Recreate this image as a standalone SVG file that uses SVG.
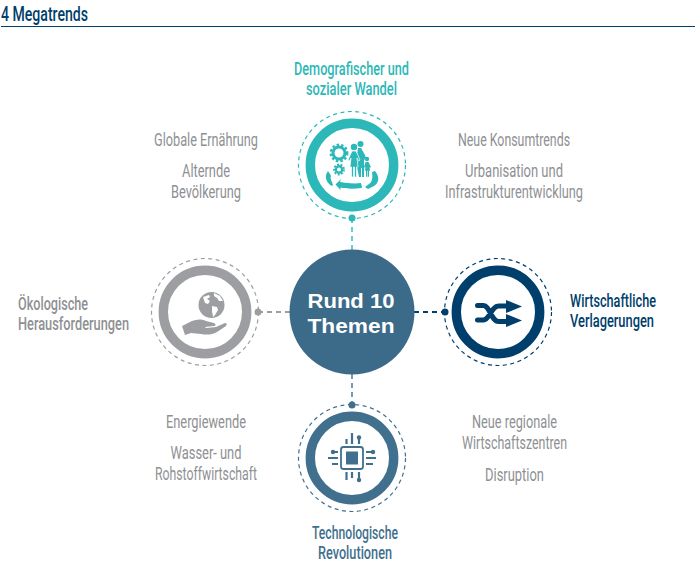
<svg xmlns="http://www.w3.org/2000/svg" width="697" height="563" viewBox="0 0 697 563">
<style>
text{font-family:"Roboto","Liberation Sans",sans-serif;font-size:18px;text-anchor:middle}
.g{fill:#8e9093}
.b{font-weight:500}
.n{fill:none;stroke-width:1.2;stroke-dasharray:4 3.5}
.r{fill:#fff;stroke-width:9.4}
.c{fill:none;stroke-width:1.4;stroke-dasharray:5 4}
.m{font-family:"Liberation Sans",sans-serif;font-size:20px;font-weight:700;fill:#fff}
</style>
<rect width="697" height="563" fill="#fff"/>
<g id="title"><text x="1" y="21" style="text-anchor:start;font-size:20px;font-weight:500" fill="#003e6b" textLength="87" lengthAdjust="spacingAndGlyphs">4 Megatrends</text><line x1="1" y1="26.500" x2="695" y2="26.500" stroke="#003e6b" stroke-width="1"/></g>
<g id="connectors">
<path class="c" d="M352 218V250" stroke="#2cb8b8"/>
<path class="c" d="M258 312H290" stroke="#9c9ea1" style="stroke-width:1.800"/>
<path class="c" d="M414 312H445" stroke="#003e6b" style="stroke-width:1.800"/>
<path class="c" d="M352 374V405" stroke="#41708f"/>
</g>
<g id="center"><circle cx="352" cy="312" r="62.500" fill="#3c6b8a"/>
<text class="m" x="351" y="308" textLength="87" lengthAdjust="spacingAndGlyphs">Rund 10</text>
<text class="m" x="351" y="333" textLength="87" lengthAdjust="spacingAndGlyphs">Themen</text></g>
<g id="demografie">
<circle class="n" cx="352" cy="165" r="53.500" stroke="#2cb8b8"/>
<circle class="r" cx="352" cy="165" r="41.700" stroke="#2cb8b8"/>
<circle cx="352" cy="218" r="3.500" fill="#2cb8b8"/>
<g fill="#2cb8b8">
<circle cx="339" cy="153" r="6" fill="none" stroke="#2cb8b8" stroke-width="3"/>
<circle cx="339" cy="153" r="8.200" fill="none" stroke="#2cb8b8" stroke-width="2.400" stroke-dasharray="2.500 2"/>
<circle cx="339" cy="169.500" r="3.200" fill="none" stroke="#2cb8b8" stroke-width="2.400"/>
<circle cx="339" cy="169.500" r="5" fill="none" stroke="#2cb8b8" stroke-width="1.800" stroke-dasharray="2 1.500"/>
<circle cx="360.500" cy="144" r="3"/>
<path d="M358 148l3 0 4 7 1 3-2 2v17h-2v-9h-1v9h-2l-3-15z"/>
<circle cx="354" cy="147" r="3.200"/>
<path d="M352 151h4l4 9-1.500 1-1.500-3 1 9h-1.500v10h-2v-10h-1v10h-2v-10h-1.500l1-9-1.500 3-1.500-1z" stroke="#fff" stroke-width=".7"/>
<circle cx="367" cy="159" r="2.200"/>
<path d="M365.500 162h3l2.500 5-1 .7-.5-1 .5 4h-1v6h-1.200v-6h-.6v6h-1.200v-6h-1l.5-4-.5 1-1-.7z"/>
<path d="M328 171l2 3 1 2c-1 2 0 4 1 6l1 3-1 1c-6-3-8-10-4-15zM372 172l3-1c5 6 4 12-1 15l-6 3-3-2 4-3c3-2 4-6 3-12z"/>
<path d="M341 179l-1 3c6 1 14 2 21 1l1 4-.5 1c-7 1-15 1-21-.5v2.500l-5-5.500z"/>
</g>
</g>
<g id="oekologie">
<circle class="n" cx="205" cy="312" r="53.500" stroke="#9c9ea1"/>
<circle class="r" cx="205" cy="312" r="41.700" stroke="#9c9ea1"/>
<circle cx="258" cy="312" r="3.500" fill="#9c9ea1"/>
<g fill="#9c9ea1">
<circle cx="211.500" cy="305" r="13"/>
<path fill="#fff" d="M203 297l6-2 1 2-3 2 3 2-2 3-3-1-1-3zM212 306l5 1 1 3-3 5-2 2-1-6zM214 293l6 3 3 5-4 0-2-3-3-2z"/>
<path d="M182 326l10-5c5-2 10-2 14 0l8 2c2 1 2 3 0 3l-9 1 1 1 10-1 9-4c2 0 2 2 1 3l-9 6c-5 3-11 3-16 2l-10-1-6 2-3-9z"/>
</g>
</g>
<g id="wirtschaft">
<circle class="n" cx="498" cy="312" r="53.500" stroke="#003e6b"/>
<circle class="r" cx="498" cy="312" r="41.700" stroke="#003e6b"/>
<circle cx="445" cy="312" r="3.500" fill="#003e6b"/>
<path d="M477.500 305.500h6c6 0 8 16 15 16h9M477.500 320h6c6 0 8-14 15-14h9" fill="none" stroke="#003e6b" stroke-width="5" stroke-linecap="round"/>
<path d="M506 300l16 6.500-16 6.500zM506 314l16 6.500-16 6.500z" fill="#003e6b"/>
</g>
<g id="technologie">
<circle class="n" cx="352" cy="458" r="53.500" stroke="#41708f"/>
<circle class="r" cx="352" cy="458" r="41.700" stroke="#41708f"/>
<circle cx="352" cy="405" r="3.500" fill="#41708f"/>
<g fill="#41708f" stroke="#41708f">
<rect x="341" y="447" width="22" height="22" rx="2.500" fill="#fff" stroke-width="1.800"/>
<rect x="346" y="451.500" width="12" height="13" stroke="none"/>
<path fill="none" stroke-width="2.200" d="M352 433v11M346.500 439v5M359 437v7M346.500 480v-8M352 478v-6M359 480v-8M333 452h5M328 458h10M332 464h6M366 452h6M366 458h10M366 464h7"/>
<circle cx="359" cy="437.500" r="2.200" stroke="none"/><circle cx="359" cy="480" r="2.200" stroke="none"/><circle cx="333" cy="452" r="2.200" stroke="none"/><circle cx="373" cy="452" r="2.200" stroke="none"/>
</g>
</g>
<g id="labels">
<text x="351.500" y="75" fill="#2cb8b8" class="b" textLength="115" lengthAdjust="spacingAndGlyphs">Demografischer und</text>
<text x="351.500" y="95" fill="#2cb8b8" class="b" textLength="91" lengthAdjust="spacingAndGlyphs">sozialer Wandel</text>
<text class="g" x="206" y="146" textLength="104" lengthAdjust="spacingAndGlyphs">Globale Ernährung</text>
<text class="g" x="206" y="177" textLength="48" lengthAdjust="spacingAndGlyphs">Alternde</text>
<text class="g" x="206" y="198" textLength="70" lengthAdjust="spacingAndGlyphs">Bevölkerung</text>
<text class="g" x="514" y="146" textLength="112" lengthAdjust="spacingAndGlyphs">Neue Konsumtrends</text>
<text class="g" x="514" y="177" textLength="98" lengthAdjust="spacingAndGlyphs">Urbanisation und</text>
<text class="g" x="514" y="198" textLength="138" lengthAdjust="spacingAndGlyphs">Infrastrukturentwicklung</text>
<text class="g b" x="18" y="310" style="text-anchor:start" textLength="70" lengthAdjust="spacingAndGlyphs">Ökologische</text>
<text class="g b" x="18" y="330" style="text-anchor:start" textLength="111" lengthAdjust="spacingAndGlyphs">Herausforderungen</text>
<text class="b" x="570" y="307" fill="#003e6b" style="text-anchor:start" textLength="86" lengthAdjust="spacingAndGlyphs">Wirtschaftliche</text>
<text class="b" x="570" y="327" fill="#003e6b" style="text-anchor:start" textLength="84" lengthAdjust="spacingAndGlyphs">Verlagerungen</text>
<text class="g" x="206" y="428" textLength="80" lengthAdjust="spacingAndGlyphs">Energiewende</text>
<text class="g" x="206" y="459" textLength="71" lengthAdjust="spacingAndGlyphs">Wasser- und</text>
<text class="g" x="206" y="480" textLength="102" lengthAdjust="spacingAndGlyphs">Rohstoffwirtschaft</text>
<text class="g" x="514.500" y="428" textLength="85" lengthAdjust="spacingAndGlyphs">Neue regionale</text>
<text class="g" x="514.500" y="449" textLength="105" lengthAdjust="spacingAndGlyphs">Wirtschaftszentren</text>
<text class="g" x="514.500" y="481" textLength="59" lengthAdjust="spacingAndGlyphs">Disruption</text>
<text class="b" x="355" y="539" fill="#41708f" textLength="86" lengthAdjust="spacingAndGlyphs">Technologische</text>
<text class="b" x="355" y="559" fill="#41708f" textLength="74" lengthAdjust="spacingAndGlyphs">Revolutionen</text>
</g>
</svg>
